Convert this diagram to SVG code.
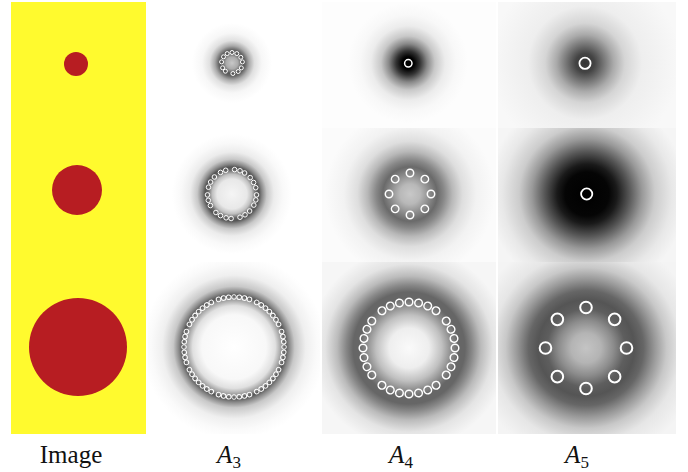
<svg xmlns="http://www.w3.org/2000/svg" width="688" height="472" viewBox="0 0 688 472">
<style>
.d{fill:none;stroke:#fff}
.lab{font-family:"Liberation Serif","Times New Roman",serif;font-size:25px;fill:#111}
.m{font-style:italic}
.sub{font-size:17px;font-style:normal}
</style>
<defs>
<radialGradient id="g3a" gradientUnits="userSpaceOnUse" cx="232" cy="63" r="40">
<stop offset="0" stop-color="#c8c8c8"/><stop offset="0.15" stop-color="#aaa"/><stop offset="0.26" stop-color="#555"/><stop offset="0.33" stop-color="#666"/><stop offset="0.43" stop-color="#aaa"/><stop offset="0.56" stop-color="#e0e0e0"/><stop offset="0.75" stop-color="#f7f7f7"/><stop offset="1" stop-color="#fff"/>
</radialGradient>
<radialGradient id="g4a" gradientUnits="userSpaceOnUse" cx="408" cy="63" r="60">
<stop offset="0" stop-color="#000"/><stop offset="0.1" stop-color="#000"/><stop offset="0.2" stop-color="#333"/><stop offset="0.32" stop-color="#888"/><stop offset="0.45" stop-color="#c8c8c8"/><stop offset="0.62" stop-color="#ececec"/><stop offset="0.8" stop-color="#f8f8f8"/><stop offset="1" stop-color="#fdfdfd"/>
</radialGradient>
<radialGradient id="g5a" gradientUnits="userSpaceOnUse" cx="585" cy="63" r="95">
<stop offset="0" stop-color="#333"/><stop offset="0.1" stop-color="#444"/><stop offset="0.2" stop-color="#777"/><stop offset="0.3" stop-color="#aaa"/><stop offset="0.42" stop-color="#d5d5d5"/><stop offset="0.6" stop-color="#eee"/><stop offset="1" stop-color="#f8f8f8"/>
</radialGradient>
<radialGradient id="g3b" gradientUnits="userSpaceOnUse" cx="232" cy="194" r="60">
<stop offset="0" stop-color="#f5f5f5"/><stop offset="0.25" stop-color="#e8e8e8"/><stop offset="0.33" stop-color="#c0c0c0"/><stop offset="0.4" stop-color="#666"/><stop offset="0.45" stop-color="#555"/><stop offset="0.5" stop-color="#888"/><stop offset="0.58" stop-color="#c8c8c8"/><stop offset="0.7" stop-color="#ececec"/><stop offset="0.85" stop-color="#f9f9f9"/><stop offset="1" stop-color="#fff"/>
</radialGradient>
<radialGradient id="g4b" gradientUnits="userSpaceOnUse" cx="410" cy="194" r="85">
<stop offset="0" stop-color="#c8c8c8"/><stop offset="0.12" stop-color="#b8b8b8"/><stop offset="0.24" stop-color="#888"/><stop offset="0.32" stop-color="#6a6a6a"/><stop offset="0.4" stop-color="#888"/><stop offset="0.5" stop-color="#b8b8b8"/><stop offset="0.62" stop-color="#dedede"/><stop offset="0.78" stop-color="#f2f2f2"/><stop offset="1" stop-color="#fbfbfb"/>
</radialGradient>
<radialGradient id="g5b" gradientUnits="userSpaceOnUse" cx="587" cy="194" r="100">
<stop offset="0" stop-color="#000"/><stop offset="0.22" stop-color="#050505"/><stop offset="0.3" stop-color="#1a1a1a"/><stop offset="0.42" stop-color="#555"/><stop offset="0.55" stop-color="#999"/><stop offset="0.68" stop-color="#ccc"/><stop offset="0.85" stop-color="#e8e8e8"/><stop offset="1" stop-color="#f5f5f5"/>
</radialGradient>
<radialGradient id="g3c" gradientUnits="userSpaceOnUse" cx="234" cy="347" r="92">
<stop offset="0" stop-color="#fff"/><stop offset="0.35" stop-color="#f8f8f8"/><stop offset="0.45" stop-color="#e0e0e0"/><stop offset="0.52" stop-color="#999"/><stop offset="0.56" stop-color="#555"/><stop offset="0.6" stop-color="#888"/><stop offset="0.66" stop-color="#c8c8c8"/><stop offset="0.78" stop-color="#efefef"/><stop offset="0.9" stop-color="#fafafa"/><stop offset="1" stop-color="#fff"/>
</radialGradient>
<radialGradient id="g4c" gradientUnits="userSpaceOnUse" cx="409" cy="348" r="100">
<stop offset="0" stop-color="#fafafa"/><stop offset="0.2" stop-color="#eee"/><stop offset="0.33" stop-color="#c0c0c0"/><stop offset="0.43" stop-color="#888"/><stop offset="0.5" stop-color="#666"/><stop offset="0.56" stop-color="#666"/><stop offset="0.63" stop-color="#888"/><stop offset="0.72" stop-color="#bbb"/><stop offset="0.84" stop-color="#e4e4e4"/><stop offset="1" stop-color="#f6f6f6"/>
</radialGradient>
<radialGradient id="g5c" gradientUnits="userSpaceOnUse" cx="586" cy="348" r="115">
<stop offset="0" stop-color="#c4c4c4"/><stop offset="0.13" stop-color="#b4b4b4"/><stop offset="0.24" stop-color="#8c8c8c"/><stop offset="0.34" stop-color="#5e5e5e"/><stop offset="0.42" stop-color="#555"/><stop offset="0.5" stop-color="#666"/><stop offset="0.6" stop-color="#999"/><stop offset="0.7" stop-color="#c8c8c8"/><stop offset="0.82" stop-color="#e6e6e6"/><stop offset="1" stop-color="#f4f4f4"/>
</radialGradient>
</defs>
<rect width="688" height="472" fill="#fff"/>

<g id="image-col">
<rect x="11" y="2" width="135" height="432" fill="#fffa2e"/>
<circle cx="76" cy="64" r="12" fill="#b71d22"/>
<circle cx="77" cy="190" r="25" fill="#b71d22"/>
<circle cx="78" cy="347" r="49" fill="#b71d22"/>
</g>

<g id="A3-top">
<rect x="148" y="2" width="172" height="126" fill="url(#g3a)"/>
<g class="d" stroke-width="1">
<circle cx="227.2" cy="53.6" r="2"/><circle cx="232" cy="52.5" r="2"/><circle cx="236.8" cy="53.6" r="2"/>
<circle cx="223.5" cy="56.8" r="2"/><circle cx="240.8" cy="57.3" r="2"/><circle cx="221.6" cy="61.9" r="2"/>
<circle cx="242.4" cy="61.9" r="2"/><circle cx="222.6" cy="67.8" r="2"/><circle cx="225.4" cy="71.2" r="2"/>
<circle cx="232.9" cy="73.5" r="2"/><circle cx="238.2" cy="71.5" r="2"/><circle cx="241.3" cy="67.9" r="2"/>
</g>
</g>

<g id="A4-top">
<rect x="322" y="2" width="174" height="126" fill="url(#g4a)"/>
<circle class="d" cx="408.3" cy="63.3" r="3.7" stroke-width="1.5"/>
</g>

<g id="A5-top">
<rect x="498" y="2" width="178" height="126" fill="url(#g5a)"/>
<circle class="d" cx="585" cy="63.3" r="5.6" stroke-width="1.8"/>
</g>

<g id="A3-mid">
<rect x="148" y="128" width="172" height="134" fill="url(#g3b)"/>
<g class="d" stroke-width="1">
<circle cx="220.5" cy="172.4" r="2.3"/><circle cx="225.7" cy="170.3" r="2.3"/><circle cx="234.6" cy="169.6" r="2.3"/>
<circle cx="240.0" cy="170.8" r="2.3"/><circle cx="244.6" cy="173.0" r="2.3"/><circle cx="250.2" cy="177.6" r="2.3"/>
<circle cx="253.6" cy="182.5" r="2.3"/><circle cx="255.7" cy="187.7" r="2.3"/><circle cx="256.5" cy="194.9" r="2.3"/>
<circle cx="255.8" cy="199.9" r="2.3"/><circle cx="253.8" cy="205.1" r="2.3"/><circle cx="249.6" cy="211.0" r="2.3"/>
<circle cx="245.0" cy="214.8" r="2.3"/><circle cx="240.0" cy="217.2" r="2.3"/><circle cx="231.1" cy="218.5" r="2.3"/>
<circle cx="226.1" cy="217.8" r="2.3"/><circle cx="220.5" cy="215.6" r="2.3"/><circle cx="215.9" cy="212.5" r="2.3"/>
<circle cx="210.4" cy="205.5" r="2.3"/><circle cx="208.3" cy="200.3" r="2.3"/><circle cx="207.5" cy="194.9" r="2.3"/>
<circle cx="208.5" cy="187.2" r="2.3"/><circle cx="210.6" cy="182.1" r="2.3"/><circle cx="214.4" cy="177.0" r="2.3"/>
</g>
</g>

<g id="A4-mid">
<rect x="322" y="128" width="174" height="134" fill="url(#g4b)"/>
<g class="d" stroke-width="1.5">
<circle cx="431" cy="194" r="3.7" transform="rotate(0 410 194)"/>
<circle cx="431" cy="194" r="3.7" transform="rotate(45 410 194)"/>
<circle cx="431" cy="194" r="3.7" transform="rotate(90 410 194)"/>
<circle cx="431" cy="194" r="3.7" transform="rotate(135 410 194)"/>
<circle cx="431" cy="194" r="3.7" transform="rotate(180 410 194)"/>
<circle cx="431" cy="194" r="3.7" transform="rotate(225 410 194)"/>
<circle cx="431" cy="194" r="3.7" transform="rotate(270 410 194)"/>
<circle cx="431" cy="194" r="3.7" transform="rotate(315 410 194)"/>
</g>
</g>

<g id="A5-mid">
<rect x="498" y="128" width="178" height="134" fill="url(#g5b)"/>
<circle class="d" cx="586.7" cy="194" r="5.6" stroke-width="1.8"/>
</g>

<g id="A3-bot">
<rect x="148" y="262" width="172" height="172" fill="url(#g3c)"/>
<g class="d" stroke-width="1">
<circle cx="284" cy="347" r="2.3" transform="rotate(-108 234 347)"/><circle cx="284" cy="347" r="2.3" transform="rotate(-102 234 347)"/><circle cx="284" cy="347" r="2.3" transform="rotate(-96 234 347)"/><circle cx="284" cy="347" r="2.3" transform="rotate(-90 234 347)"/><circle cx="284" cy="347" r="2.3" transform="rotate(-84 234 347)"/><circle cx="284" cy="347" r="2.3" transform="rotate(-78 234 347)"/><circle cx="284" cy="347" r="2.3" transform="rotate(-72 234 347)"/>
<circle cx="284" cy="347" r="2.3" transform="rotate(-63 234 347)"/><circle cx="284" cy="347" r="2.3" transform="rotate(-57 234 347)"/><circle cx="284" cy="347" r="2.3" transform="rotate(-51 234 347)"/><circle cx="284" cy="347" r="2.3" transform="rotate(-45 234 347)"/><circle cx="284" cy="347" r="2.3" transform="rotate(-39 234 347)"/><circle cx="284" cy="347" r="2.3" transform="rotate(-33 234 347)"/><circle cx="284" cy="347" r="2.3" transform="rotate(-27 234 347)"/>
<circle cx="284" cy="347" r="2.3" transform="rotate(-18 234 347)"/><circle cx="284" cy="347" r="2.3" transform="rotate(-12 234 347)"/><circle cx="284" cy="347" r="2.3" transform="rotate(-6 234 347)"/><circle cx="284" cy="347" r="2.3" transform="rotate(0 234 347)"/><circle cx="284" cy="347" r="2.3" transform="rotate(6 234 347)"/><circle cx="284" cy="347" r="2.3" transform="rotate(12 234 347)"/><circle cx="284" cy="347" r="2.3" transform="rotate(18 234 347)"/>
<circle cx="284" cy="347" r="2.3" transform="rotate(27 234 347)"/><circle cx="284" cy="347" r="2.3" transform="rotate(33 234 347)"/><circle cx="284" cy="347" r="2.3" transform="rotate(39 234 347)"/><circle cx="284" cy="347" r="2.3" transform="rotate(45 234 347)"/><circle cx="284" cy="347" r="2.3" transform="rotate(51 234 347)"/><circle cx="284" cy="347" r="2.3" transform="rotate(57 234 347)"/><circle cx="284" cy="347" r="2.3" transform="rotate(63 234 347)"/>
<circle cx="284" cy="347" r="2.3" transform="rotate(72 234 347)"/><circle cx="284" cy="347" r="2.3" transform="rotate(78 234 347)"/><circle cx="284" cy="347" r="2.3" transform="rotate(84 234 347)"/><circle cx="284" cy="347" r="2.3" transform="rotate(90 234 347)"/><circle cx="284" cy="347" r="2.3" transform="rotate(96 234 347)"/><circle cx="284" cy="347" r="2.3" transform="rotate(102 234 347)"/><circle cx="284" cy="347" r="2.3" transform="rotate(108 234 347)"/>
<circle cx="284" cy="347" r="2.3" transform="rotate(117 234 347)"/><circle cx="284" cy="347" r="2.3" transform="rotate(123 234 347)"/><circle cx="284" cy="347" r="2.3" transform="rotate(129 234 347)"/><circle cx="284" cy="347" r="2.3" transform="rotate(135 234 347)"/><circle cx="284" cy="347" r="2.3" transform="rotate(141 234 347)"/><circle cx="284" cy="347" r="2.3" transform="rotate(147 234 347)"/><circle cx="284" cy="347" r="2.3" transform="rotate(153 234 347)"/>
<circle cx="284" cy="347" r="2.3" transform="rotate(162 234 347)"/><circle cx="284" cy="347" r="2.3" transform="rotate(168 234 347)"/><circle cx="284" cy="347" r="2.3" transform="rotate(174 234 347)"/><circle cx="284" cy="347" r="2.3" transform="rotate(180 234 347)"/><circle cx="284" cy="347" r="2.3" transform="rotate(186 234 347)"/><circle cx="284" cy="347" r="2.3" transform="rotate(192 234 347)"/><circle cx="284" cy="347" r="2.3" transform="rotate(198 234 347)"/>
<circle cx="284" cy="347" r="2.3" transform="rotate(207 234 347)"/><circle cx="284" cy="347" r="2.3" transform="rotate(213 234 347)"/><circle cx="284" cy="347" r="2.3" transform="rotate(219 234 347)"/><circle cx="284" cy="347" r="2.3" transform="rotate(225 234 347)"/><circle cx="284" cy="347" r="2.3" transform="rotate(231 234 347)"/><circle cx="284" cy="347" r="2.3" transform="rotate(237 234 347)"/><circle cx="284" cy="347" r="2.3" transform="rotate(243 234 347)"/>
</g>
</g>

<g id="A4-bot">
<rect x="322" y="262" width="174" height="172" fill="url(#g4c)"/>
<g class="d" stroke-width="1.5">
<circle cx="455" cy="348" r="3.8" transform="rotate(-126 409 348)"/><circle cx="455" cy="348" r="3.8" transform="rotate(-114 409 348)"/><circle cx="455" cy="348" r="3.8" transform="rotate(-102 409 348)"/><circle cx="455" cy="348" r="3.8" transform="rotate(-90 409 348)"/><circle cx="455" cy="348" r="3.8" transform="rotate(-78 409 348)"/><circle cx="455" cy="348" r="3.8" transform="rotate(-66 409 348)"/><circle cx="455" cy="348" r="3.8" transform="rotate(-54 409 348)"/>
<circle cx="455" cy="348" r="3.8" transform="rotate(-36 409 348)"/><circle cx="455" cy="348" r="3.8" transform="rotate(-24 409 348)"/><circle cx="455" cy="348" r="3.8" transform="rotate(-12 409 348)"/><circle cx="455" cy="348" r="3.8" transform="rotate(0 409 348)"/><circle cx="455" cy="348" r="3.8" transform="rotate(12 409 348)"/><circle cx="455" cy="348" r="3.8" transform="rotate(24 409 348)"/><circle cx="455" cy="348" r="3.8" transform="rotate(36 409 348)"/>
<circle cx="455" cy="348" r="3.8" transform="rotate(54 409 348)"/><circle cx="455" cy="348" r="3.8" transform="rotate(66 409 348)"/><circle cx="455" cy="348" r="3.8" transform="rotate(78 409 348)"/><circle cx="455" cy="348" r="3.8" transform="rotate(90 409 348)"/><circle cx="455" cy="348" r="3.8" transform="rotate(102 409 348)"/><circle cx="455" cy="348" r="3.8" transform="rotate(114 409 348)"/><circle cx="455" cy="348" r="3.8" transform="rotate(126 409 348)"/>
<circle cx="455" cy="348" r="3.8" transform="rotate(144 409 348)"/><circle cx="455" cy="348" r="3.8" transform="rotate(156 409 348)"/><circle cx="455" cy="348" r="3.8" transform="rotate(168 409 348)"/><circle cx="455" cy="348" r="3.8" transform="rotate(180 409 348)"/><circle cx="455" cy="348" r="3.8" transform="rotate(192 409 348)"/><circle cx="455" cy="348" r="3.8" transform="rotate(204 409 348)"/><circle cx="455" cy="348" r="3.8" transform="rotate(216 409 348)"/>
</g>
</g>

<g id="A5-bot">
<rect x="498" y="262" width="178" height="172" fill="url(#g5c)"/>
<g class="d" stroke-width="2">
<circle cx="626.5" cy="348" r="5.8" transform="rotate(0 586 348)"/>
<circle cx="626.5" cy="348" r="5.8" transform="rotate(45 586 348)"/>
<circle cx="626.5" cy="348" r="5.8" transform="rotate(90 586 348)"/>
<circle cx="626.5" cy="348" r="5.8" transform="rotate(135 586 348)"/>
<circle cx="626.5" cy="348" r="5.8" transform="rotate(180 586 348)"/>
<circle cx="626.5" cy="348" r="5.8" transform="rotate(225 586 348)"/>
<circle cx="626.5" cy="348" r="5.8" transform="rotate(270 586 348)"/>
<circle cx="626.5" cy="348" r="5.8" transform="rotate(315 586 348)"/>
</g>
</g>

<g id="labels">
<text class="lab" x="71" y="463" text-anchor="middle">Image</text>
<text class="lab" x="229" y="463" text-anchor="middle"><tspan class="m">A</tspan><tspan class="sub" dy="5">3</tspan></text>
<text class="lab" x="401" y="463" text-anchor="middle"><tspan class="m">A</tspan><tspan class="sub" dy="5">4</tspan></text>
<text class="lab" x="577" y="463" text-anchor="middle"><tspan class="m">A</tspan><tspan class="sub" dy="5">5</tspan></text>
</g>
</svg>
